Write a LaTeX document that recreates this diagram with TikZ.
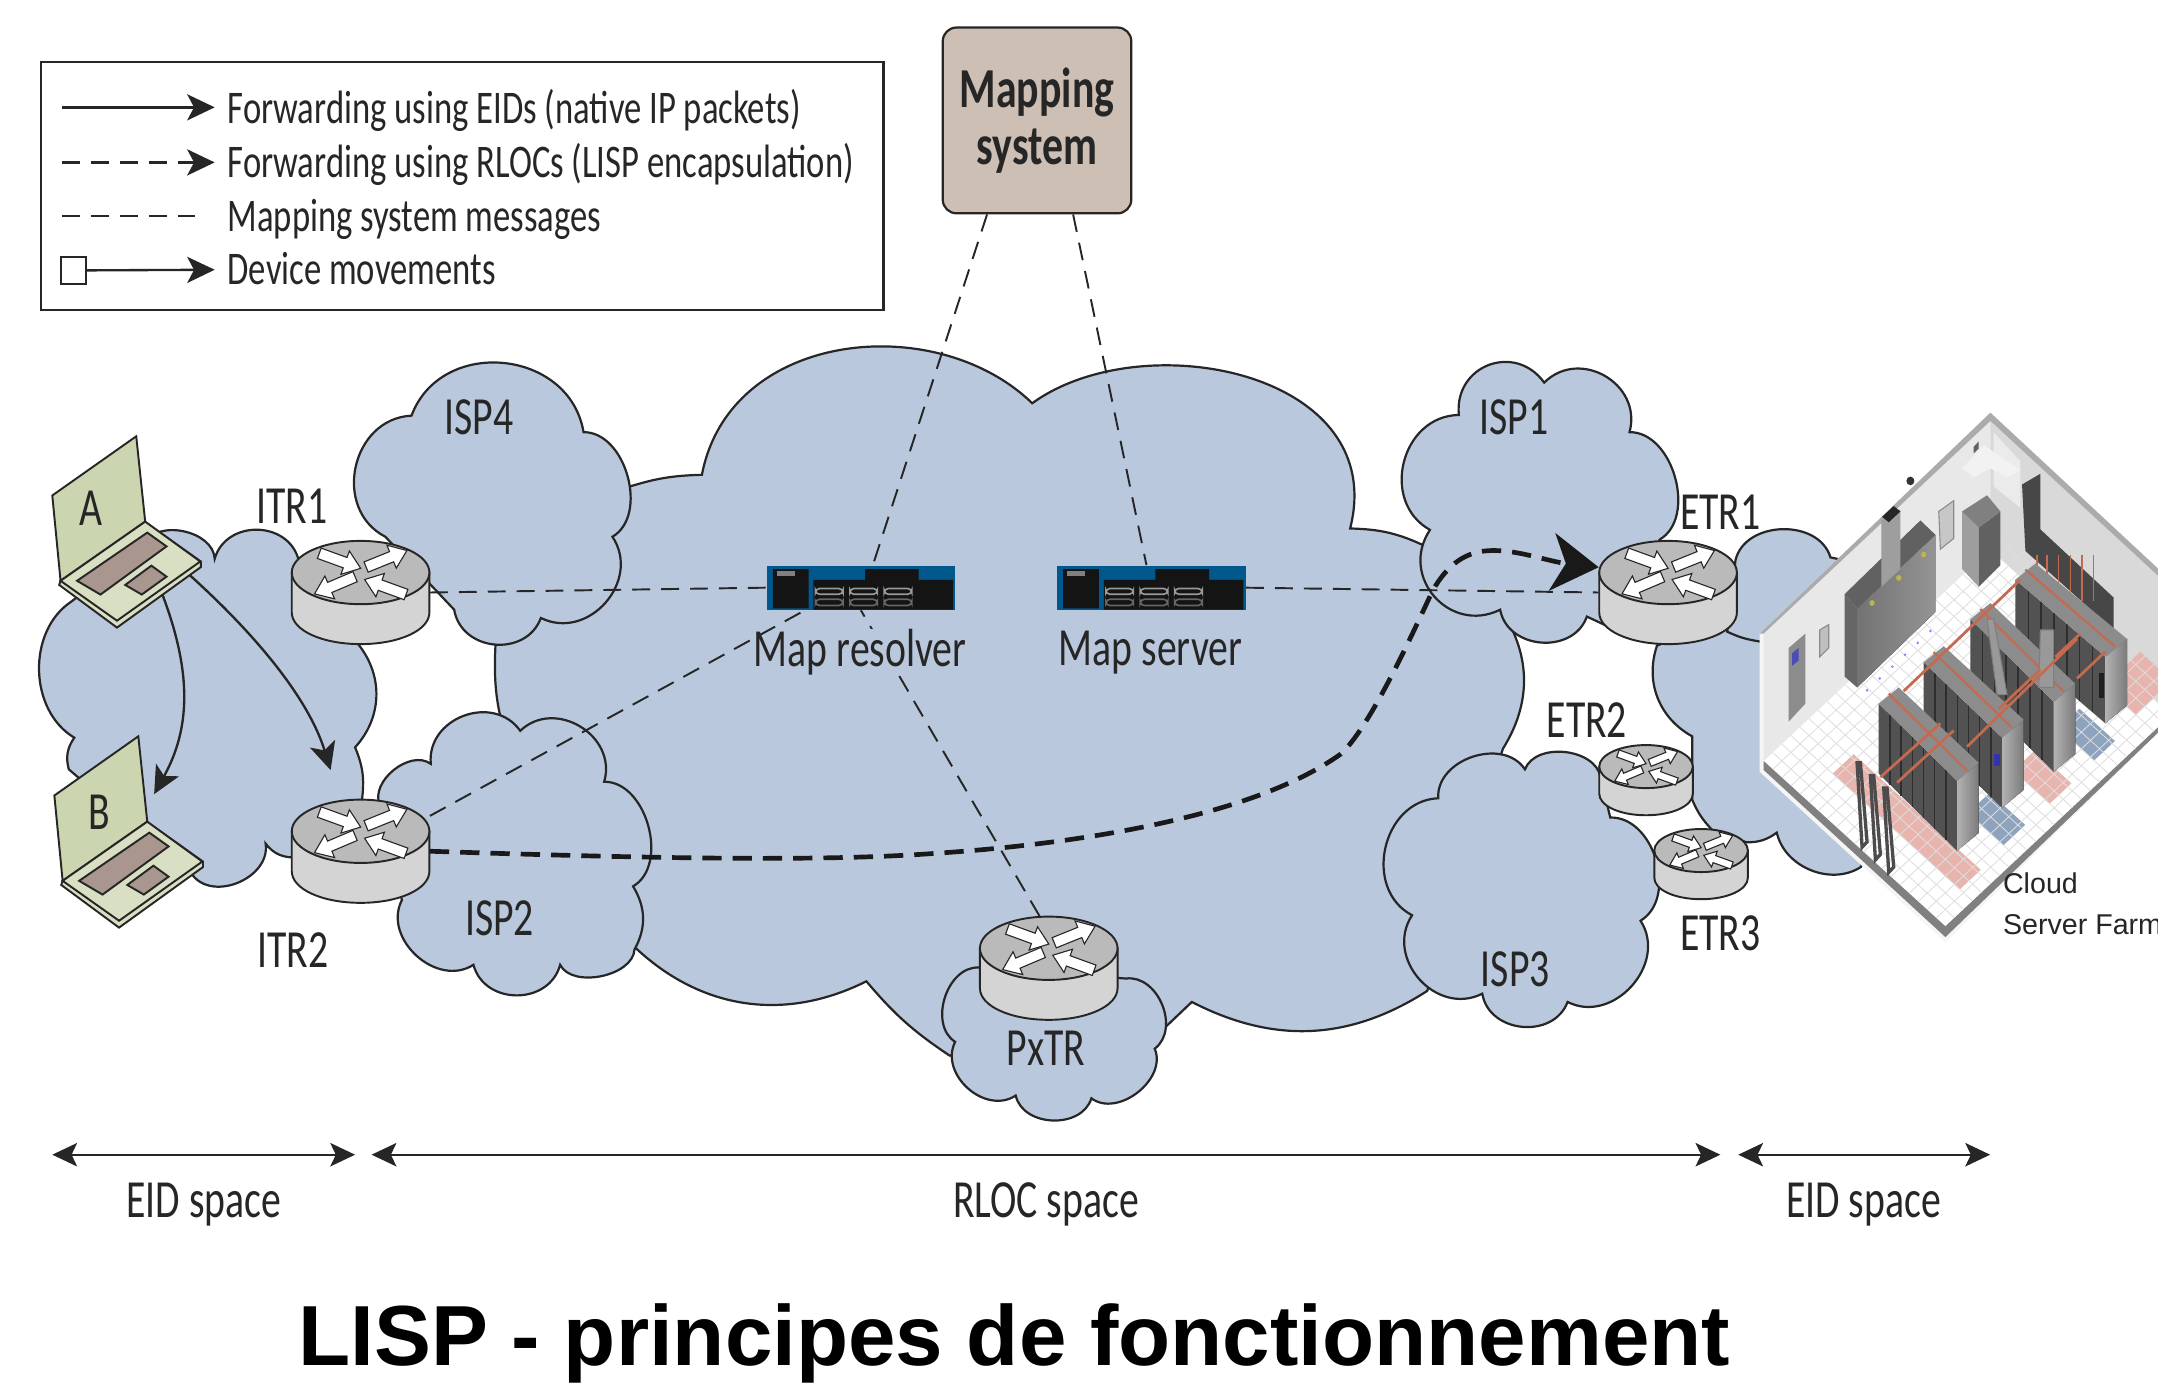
\documentclass[tikz,border=0pt]{standalone}
\usepackage{fontspec}
\setmainfont{Liberation Sans}
\newfontfamily\gillfont[FakeStretch=.74]{Carlito}
\usetikzlibrary{arrows.meta,calc}

\definecolor{cloudblue}{HTML}{B9C8DC}
\definecolor{boxtan}{HTML}{CDBFB4}
\definecolor{lineink}{HTML}{262626}
\definecolor{srvblue}{HTML}{00588C}
\definecolor{srvdark}{HTML}{141414}
\definecolor{lapscreen}{HTML}{CBD6B1}
\definecolor{lapbase}{HTML}{D8DFC2}
\definecolor{lapkeys}{HTML}{A8968F}
\definecolor{tilepink}{HTML}{E8B4AE}
\definecolor{tileblue}{HTML}{8EA3BE}
\definecolor{traypink}{HTML}{C56A50}

% floor of the farm, in tile steps
\newcommand\fpt[2]{({190+27.25*(#1)+27.2*(#2)},{1005+23*(#1)-23.6*(#2)})}
\newcommand\tileblock[5]{\fill[#1] \fpt{#2}{#4} -- \fpt{#3}{#4} -- \fpt{#3}{#5} -- \fpt{#2}{#5} -- cycle;}

\tikzset{
    cloudshape/.style={draw=lineink,fill=cloudblue,line width=.8pt},
    lobe/.style={bend left=75,looseness=#1},
    lobe/.default=1.25,
    lbl/.style={font=\gillfont\fontsize{19.5}{23}\selectfont,text=lineink,inner sep=0pt},
    leglbl/.style={font=\gillfont\fontsize{17}{20}\selectfont,text=lineink,inner sep=0pt},
    msgline/.style={draw=lineink,line width=.7pt,dash pattern=on 6.5pt off 4pt},
    pathline/.style={draw=black!90,line width=1.7pt,dash pattern=on 7pt off 4pt},
    eidarrow/.style={draw=lineink,line width=.85pt,-{Stealth[length=10pt,width=9.5pt,inset=2.5pt]}},
    spacearrow/.style={draw=lineink,line width=.8pt,{Stealth[length=9pt,width=8.5pt,inset=2pt]}-{Stealth[length=9pt,width=8.5pt,inset=2pt]}},
    rbox/.style={rectangle,minimum width=50pt,minimum height=37.5pt,inner sep=0pt},
    rarrow/.style={draw=black!85,fill=white,line width=.4pt},
    srvbox/.style={rectangle,fill=srvblue,minimum width=68.5pt,minimum height=16pt,inner sep=0pt},
    lapbox/.style={rectangle,minimum width=54pt,minimum height=69pt,inner sep=0pt},
    lapline/.style={draw=black!85,line width=.7pt},
    router/.pic={
        \draw[lineink,fill=black!17,line width=.7pt] (-50,0) -- (-50,29) .. controls (-50,42) and (-28,52) .. (0,52)
            .. controls (28,52) and (50,42) .. (50,29) -- (50,0) -- cycle;
        \draw[lineink,fill=black!27,line width=.7pt] (0,0) ellipse [x radius=50,y radius=23];
        \foreach \tx/\ty/\rot in {-30/-14/-20, 4/-4/22, -4/3/203, 33/16/160}
            \draw[rarrow,shift={(\tx,\ty)},rotate=\rot] (0,-4) -- (20,-4) -- (20,-9) -- (32,0) -- (20,9) -- (20,4) -- (0,4) -- cycle;
        \node[rbox,transform shape] (-box) at (0,14.5) {};
    },
    laptop/.pic={
        \draw[lapline,fill=lapbase] (43,425) -- (85,456) -- (146,412) -- (146,408) -- (105,379) -- (44,422) -- cycle;
        \draw[lapline,fill=lapscreen] (38,360) -- (99,317) -- (105.5,379) -- (44,422) -- cycle;
        \draw[lapline,fill=lapbase] (44,422) -- (105.5,379) -- (145.5,408) -- (85,451) -- cycle;
        \draw[lapline,fill=lapkeys] (56,422) -- (107,387) -- (121,397) -- (73,432) -- cycle;
        \draw[lapline,fill=lapkeys] (91,425) -- (110,411) -- (121,419) -- (103,432) -- cycle;
        \node[lapbox] (-box) at (92,386) {};
    },
    server/.pic={
        \fill[srvdark] (-64,-13.5) rectangle (-38,15) (3,-13.5) rectangle (42,-5.7) (-34.5,-5.7) rectangle (67,16);
        \fill[black!50] (-61,-12.4) rectangle (-48,-8.8);
        \foreach \px in {-33,-8,17} {
            \draw[black!40,line width=.6pt,rounded corners=1.5pt] (\px,.6) rectangle (\px+20,4.8);
            \draw[black!60,line width=.6pt,rounded corners=1.5pt] (\px,8.4) rectangle (\px+20,13);
        }
    },
}

\begin{document}
\begin{tikzpicture}[x=.5pt,y=-.5pt]
    \useasboundingbox (0,0) rectangle (1568,1006.3);

    % clouds
    \draw[cloudshape] (380,563) to[bend left=15] (360,469) -- (400,380) -- (456,354) to[bend left=8] (510,345)
        .. controls (530,240) and (680,225) .. (750,293) .. controls (830,235) and (1010,270) .. (981,384)
        to[bend left=12] (1036,397) -- (1092,445) to[bend left=32] (1092,544) -- (1037,720)
        to[bend left=30] (866,728) -- (846,747) -- (690,767) to[bend left=8] (629.5,713) to[bend left=35] (461,688) -- (430,600) -- cycle;

    \draw[cloudshape] (52,437) -- (105,395) to[lobe=1] (156,406) to[lobe] (217,407) -- (261,469)
        to[bend left=40] (258,543) to[bend left=15] (263,581) -- (213,623) to[bend left=25] (193,613) to[lobe=1.1] (140,636)
        -- (50,559) to[bend left=25] (54,536) to[bend left=58] cycle;

    \draw[cloudshape] (280,390) to[lobe] (299,302) to[lobe] (424,314) to[lobe=1] (445,390) to[lobe] (393,449) to[lobe] (330,443) -- cycle;
    \draw[cloudshape] (276,585) to[lobe=1] (313,555) to[lobe] (378,531) to[lobe] (439,568) to[lobe=1] (460,644) to[bend left=30] (461,690)
        to[lobe=.9] (407,701) to[lobe] (344,701) to[lobe=1.15] (292,654) -- cycle;
    \draw[cloudshape] (1039,385) to[lobe] (1060,301.5) to[lobe=1.4] (1122,278) to[lobe=1.3] (1184,314) to[lobe=1] (1206,392) -- (1168,455)
        -- (1153,448) to[lobe=1.2] (1090,443) to[lobe=1.35] cycle;
    \draw[cloudshape] (1108,559) to[lobe=1] (1163,565) -- (1170,594) to[lobe=1.05] (1192,669) to[lobe=1.2] (1139,728) to[lobe=1.2] (1077,722)
        to[lobe=1.25] (1026,665) to[lobe=1.2] (1045,580) to[lobe=1.1] cycle;
    \draw[cloudshape] (694,757) to[lobe=1.05] (711,703) -- (818,711) to[lobe=1.1] (839,762) to[lobe=1.05] (793,798) to[lobe=1.1] (738,796) to[lobe=1.15] cycle;

    \draw[cloudshape] (1204,469) to[bend right=40] (1229.5,535) -- (1229.5,581) to[bend right=10] (1244,603) -- (1269,612) to[bend right=18] (1291,605)
        to[bend right=55] (1352,630) -- (1420,500) -- (1340,420) -- cycle;
    \draw[cloudshape] (1255,459) -- (1261,407) to[lobe=1.1] (1330,405) -- (1400,420) -- (1330,480) -- (1278,466) to[bend left=8] cycle;

    % server farm
    \begin{scope}[shift={(1235.5,290.7)},x=.1211pt,y=-.1305pt]
        \clip (0,0) rectangle (1374,1560);
        \fill[black!4] (178,650) -- (870,35) -- (1374,470) -- (1374,925) -- (735,1510) -- (178,1035) -- cycle;
        \fill[black!9] (190,650) -- (870,58) -- (870,415) -- (190,1010) -- cycle;
        \fill[black!15] (870,58) -- (1374,490) -- (1374,845) -- (870,415) -- cycle;
        \fill[black!8] (880,90) -- (880,240) -- (960,300) -- (960,170) -- cycle;
        \fill[black!33] (178,650) -- (870,35) -- (1374,470) -- (1374,490) -- (870,58) -- (190,650) -- cycle;
        \fill[white] (190,1005) -- (870,415) -- (1374,845) -- (1374,910) -- (735,1465) -- cycle;
        \fill[black!50] (190,1005) -- (735,1465) -- (1374,910) -- (1374,925) -- (735,1495) -- (190,1030) -- cycle;

        % floor tiles
        \tileblock{tilepink}{4.6}{18.6}{3}{5.3}
        \tileblock{tilepink}{14.5}{18.5}{13}{15.4}
        \tileblock{tilepink}{14.5}{18}{23}{27}
        \tileblock{tileblue}{14.5}{18.4}{8}{10.4}
        \tileblock{tileblue}{14.5}{18.4}{18}{20.3}
        \foreach \k in {1,...,19} \draw[black!13,line width=.3pt] \fpt{\k}{0} -- \fpt{\k}{27};
        \foreach \k in {1,...,26} \draw[black!13,line width=.3pt] \fpt{0}{\k} -- \fpt{20}{\k};

        % wall fittings
        \fill[black!45] (265,690) -- (315,650) -- (315,845) -- (265,895) -- cycle;
        \fill[blue!60!black!70] (275,705) -- (295,690) -- (295,725) -- (275,740) -- cycle;
        \draw[black!45,fill=black!25] (358,640) -- (385,625) -- (385,690) -- (358,715) -- cycle;
        \draw[black!45,fill=black!22] (715,310) -- (760,280) -- (760,385) -- (720,415) -- cycle;
        \fill[black!62] (820,130) -- (835,115) -- (835,135) -- (820,148) -- cycle;
        \fill[black!5] (785,190) -- (850,125) -- (960,195) -- (920,215) -- (870,190) -- (820,215) -- cycle;
        \fill[black!80] (630,225) circle [radius=12];

        % cabinets
        \fill[black!60] (433,540) -- (470,580) -- (470,800) -- (433,770) -- cycle;
        \fill[left color=black!55,right color=black!42] (470,580) -- (705,375) -- (705,590) -- (470,800) -- cycle;
        \fill[black!62] (433,540) -- (660,335) -- (705,375) -- (470,580) -- cycle;
        \fill[black!38] (543,335) -- (600,305) -- (600,470) -- (543,520) -- cycle;
        \fill[black!85] (545,325) -- (580,295) -- (600,310) -- (565,340) -- cycle;
        \foreach \lx/\ly in {515/565, 595/495, 670/430} \fill[olive!60!white] (\lx,\ly) circle [radius=8];
        \fill[black!38] (785,310) -- (835,355) -- (835,520) -- (785,470) -- cycle;
        \fill[black!62] (835,355) -- (900,310) -- (900,460) -- (835,520) -- cycle;
        \fill[black!50] (785,310) -- (860,265) -- (900,310) -- (835,355) -- cycle;
        \fill[black!72] (965,235) -- (1020,205) -- (1020,360) -- (1240,550) -- (1240,640) -- (975,420) -- cycle;
        \foreach \lx in {1010,1040,1075,1110,1145,1180} \draw[traypink,line width=.5pt] (\lx,430) -- (\lx,560);

        % rack rows
        \foreach \ax/\ay/\bx/\by/\drop in {945/500/1215/715/185, 810/610/1060/840/195, 670/730/905/940/195, 535/845/770/1060/195} {
            \fill[black!68] (\ax,\ay) -- (\bx,\by) -- (\bx,\by+\drop) -- (\ax,\ay+\drop) -- cycle;
            \foreach \k in {1,...,6} \draw[black!82,line width=.5pt] ($(\ax,\ay)!\k/7!(\bx,\by)$) -- ++(0,\drop);
            \fill[left color=black!30,right color=black!52] (\bx,\by) -- (\bx+65,\by-50) -- (\bx+65,\by-50+\drop) -- (\bx,\by+\drop) -- cycle;
            \fill[black!45] (\ax,\ay) -- (\ax+60,\ay-45) -- (\bx+65,\by-50) -- (\bx,\by) -- cycle;
            \draw[traypink,line width=.8pt] (\ax+30,\ay-28) -- (\bx+30,\by-28);
        }
        \draw[black!50,fill=black!40] (880,610) -- (920,820) -- (890,820) -- (860,610) -- cycle;
        \draw[black!50,fill=black!40] (1020,640) -- (1060,640) -- (1060,800) -- (1015,800) -- cycle;
        \fill[blue!60!black!80] (880,985) rectangle (900,1020);
        \fill[black!88] (1195,760) rectangle (1212,830);

        % cable trays
        \foreach \ax/\ay/\bx/\by in {610/810/960/500, 800/965/1130/665, 540/1050/720/900, 590/1065/760/920, 895/860/1020/750, 1065/715/1140/650, 1130/775/1215/700}
            \draw[traypink,line width=1pt] (\ax,\ay) -- (\bx,\by);
        \foreach \k in {0,...,5} \fill[blue!50] (500+\k*38,808-\k*33) circle [radius=4];

        % front frames
        \foreach \fx/\fy in {470/1010, 510/1045, 550/1080} {
            \draw[black!70,line width=1.2pt] (\fx,\fy) -- (\fx+10,\fy) -- (\fx+30,\fy+220) -- (\fx+15,\fy+235) -- cycle;
        }
    \end{scope}

    % routers
    \pic (itrA) at (262,416) {router};
    \pic (itrB) at (262,604) {router};
    \pic (etrA) at (1212,416) {router};
    \pic[scale=.68] (etrB) at (1196,557) {router};
    \pic[scale=.68] (etrC) at (1236,618) {router};
    \pic (pxtr) at (762,689) {router};

    % laptops
    \pic (lapA) at (0,0) {laptop};
    \pic (lapB) at (1.5,218) {laptop};
    \coordinate (lapAdown) at (118,432);
    \coordinate (lapAright) at (138,418);
    \coordinate (lapBin) at (112,577);
    \draw[eidarrow] (lapAdown) .. controls (140,490) and (138,530) .. (lapBin);
    \draw[eidarrow,shorten >=11pt] (lapAright) .. controls (190,465) and (225,510) .. (itrB-box.112);

    % mapping system and servers
    \node[draw=lineink,fill=boxtan,line width=.8pt,rounded corners=5pt,minimum width=68.5pt,minimum height=67.5pt,inner sep=0pt,align=center,
        font=\gillfont\bfseries\fontsize{20.5}{20.5}\selectfont,text=lineink] (mapsys) at (753.5,87.5) {Mapping\\system};
    \node[srvbox] (mapres) at (625.5,427) {};
    \pic at (625.5,427) {server};
    \node[srvbox] (mapsrv) at (836.5,427) {};
    \pic at (836.5,427) {server};

    \draw[msgline] (pxtr-box.100) -- (mapres.south);
    \node[lbl,fill=cloudblue] (mapreslbl) at (625,474) {Map resolver};
    \node[lbl] (mapsrvlbl) at (836,474) {Map server};

    % messages
    \draw[msgline] (mapsys.-118) -- (mapres.62);
    \draw[msgline] (mapsys.-69) -- (mapsrv.102);
    \draw[msgline] (itrA-box.east) -- (mapres.west);
    \draw[msgline] (itrB-box.27) -- (mapres.202);
    \draw[msgline] (mapsrv.east) -- (etrA-box.west);

    % forwarding path
    \draw[pathline,-{Stealth[length=17pt,width=21pt,inset=5pt]}] (itrB-box.east) .. controls (480,624) and (600,626) .. (680,620)
        .. controls (800,612) and (915,590) .. (974,548) .. controls (994,530) and (1022,470) .. (1041,429)
        .. controls (1052,410) and (1065,400) .. (1085,400) .. controls (1105,400) and (1125,408) .. (etrA-box.160);

    % labels
    \node[lbl] (lblA) at (66,369) {A};
    \node[lbl] (lblB) at (72,590) {B};
    \node[lbl] (lblitrA) at (212,368) {ITR1};
    \node[lbl] (lblitrB) at (213,690) {ITR2};
    \node[lbl] (lblispD) at (348,303) {ISP4};
    \node[lbl] (lblispB) at (363,667) {ISP2};
    \node[lbl] (lblispA) at (1100,303) {ISP1};
    \node[lbl] (lblispC) at (1101,704) {ISP3};
    \node[lbl] (lbletrA) at (1250,372) {ETR1};
    \node[lbl] (lbletrB) at (1153,523) {ETR2};
    \node[lbl] (lbletrC) at (1250,678) {ETR3};
    \node[lbl] (lblpxtr) at (760,762) {PxTR};
    \node[anchor=west,inner sep=0pt,font=\fontsize{10.4}{13}\selectfont,text=lineink] (lblcloud) at (1455,642) {Cloud};
    \node[anchor=west,inner sep=0pt,font=\fontsize{10.4}{13}\selectfont,text=lineink] (lblfarm) at (1455,672) {Server Farm};

    % legend
    \node[draw=lineink,line width=.8pt,minimum width=306pt,minimum height=90pt,inner sep=0pt] (legend) at (336,135) {};
    \foreach \rowy/\rowname/\rowtext in {90/a/Forwarding using EIDs (native IP packets),129/b/Forwarding using RLOCs (LISP encapsulation),168/c/Mapping system messages,207/d/Device movements}
        \node[leglbl,anchor=base west] (leg\rowname) at (165,\rowy) {\rowtext};
    \coordinate (legastart) at (45,78);
    \coordinate (legaend) at (156,78);
    \coordinate (legbstart) at (45,118);
    \coordinate (legbend) at (156,118);
    \coordinate (legcstart) at (45,157);
    \coordinate (legcend) at (145,157);
    \coordinate (legdend) at (156,196);
    \node[draw=lineink,line width=.7pt,fill=white,minimum width=9pt,minimum height=10pt,inner sep=0pt] (legbox) at (53.5,196.5) {};
    \draw[eidarrow] (legastart) -- (legaend);
    \draw[eidarrow,dash pattern=on 6.5pt off 4pt] (legbstart) -- (legbend);
    \draw[msgline] (legcstart) -- (legcend);
    \draw[eidarrow] (legbox) -- (legdend);

    % spaces
    \coordinate (eidAl) at (38,839);
    \coordinate (eidAr) at (258,839);
    \coordinate (rlocl) at (270,839);
    \coordinate (rlocr) at (1250,839);
    \coordinate (eidBl) at (1263,839);
    \coordinate (eidBr) at (1446,839);
    \draw[spacearrow] (eidAl) -- (eidAr);
    \draw[spacearrow] (rlocl) -- (rlocr);
    \draw[spacearrow] (eidBl) -- (eidBr);
    \node[lbl] (lbleidA) at (148,875) {EID space};
    \node[lbl] (lblrloc) at (760,875) {RLOC space};
    \node[lbl] (lbleidB) at (1354,875) {EID space};

    \node[inner sep=0pt,font=\bfseries\fontsize{31}{36}\selectfont] (title) at (737,976) {LISP - principes de fonctionnement};
\end{tikzpicture}
\end{document}
